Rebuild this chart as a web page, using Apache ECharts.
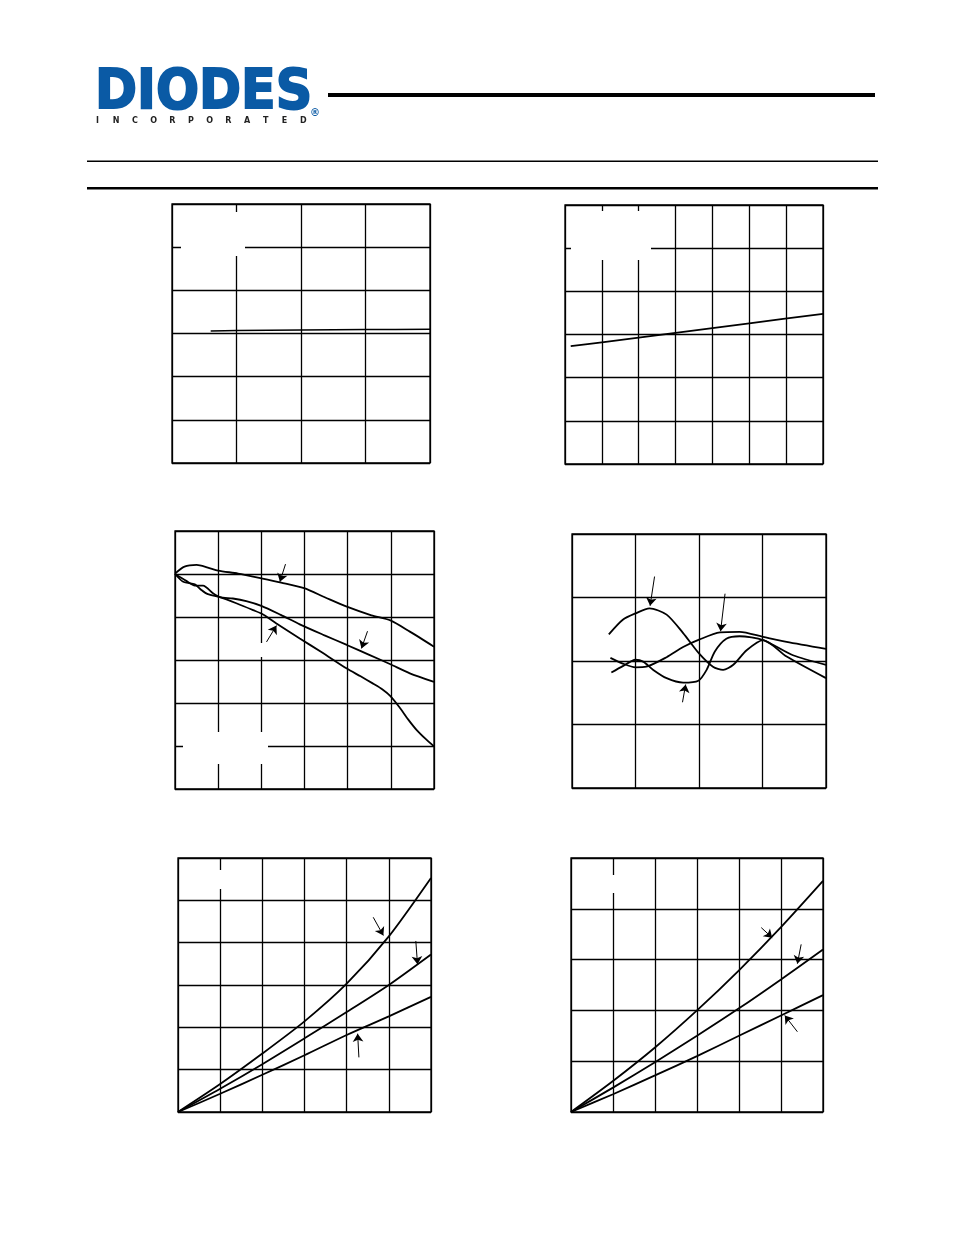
<!DOCTYPE html>
<html><head><meta charset="utf-8">
<script src="https://cdn.jsdelivr.net/npm/echarts@6/dist/echarts.min.js"></script>
<style>html,body{margin:0;padding:0;background:#fff}#c{width:954px;height:1235px}</style>
</head><body><div id="c"></div>
<script>
// ---------- data (grid units) ----------
const c1Line = [[0.6,3.06],[1,3.07],[2,3.08],[3,3.09],[4,3.10]];
const c2Line = [[0.155,2.73],[1,2.82],[3,3.04],[5,3.26],[7,3.48]];

const c3A = [[0,5.01],[0.22,5.17],[0.5,5.21],[0.76,5.15],[1.0,5.08],[1.46,5.01],[2.0,4.9],[2.46,4.8],[2.99,4.67],[3.47,4.46],[3.98,4.24],[4.55,4.04],[4.99,3.92],[5.44,3.66],[6,3.31]];
const c3B = [[0,5.0],[0.26,4.84],[0.46,4.73],[0.65,4.73],[0.88,4.55],[1.04,4.46],[1.34,4.43],[1.65,4.37],[2.0,4.26],[2.45,4.05],[2.89,3.83],[3.45,3.58],[3.98,3.35],[4.5,3.12],[4.99,2.9],[5.44,2.69],[6,2.49]];
const c3C = [[0,5.0],[0.19,4.82],[0.46,4.76],[0.61,4.63],[0.76,4.53],[1.04,4.46],[1.42,4.32],[1.81,4.16],[2.04,4.06],[2.35,3.85],[2.89,3.5],[3.4,3.18],[3.98,2.8],[4.3,2.62],[4.59,2.45],[4.8,2.32],[4.99,2.16],[5.2,1.9],[5.4,1.62],[5.6,1.37],[5.8,1.17],[6,0.99]];
const c3Arrows = [[[2.56,5.23],[2.43,4.82]],[[2.12,3.42],[2.35,3.80]],[[4.46,3.67],[4.32,3.27]]];

const c4Hump = [[0.58,2.42],[0.80,2.65],[1.0,2.75],[1.22,2.83],[1.49,2.73],[1.75,2.44],[2.0,2.12],[2.22,1.91],[2.38,1.86],[2.54,1.94],[2.75,2.17],[3.01,2.33],[3.38,2.07],[4.0,1.73]];
const c4Rise = [[0.605,2.05],[0.80,1.96],[1.0,1.90],[1.17,1.91],[1.49,2.06],[1.75,2.22],[2.01,2.34],[2.33,2.45],[2.64,2.46],[3.01,2.38],[3.38,2.30],[4.0,2.19]];
const c4Dip = [[0.62,1.82],[0.80,1.92],[1.0,2.02],[1.12,1.99],[1.28,1.86],[1.49,1.73],[1.75,1.66],[1.99,1.69],[2.12,1.86],[2.25,2.15],[2.43,2.35],[2.64,2.39],[3.01,2.33],[3.48,2.09],[4.0,1.94]];
const c4Arrows = [[[1.30,3.33],[1.23,2.87]],[[2.41,3.06],[2.34,2.47]],[[1.74,1.35],[1.79,1.63]]];

const c5Top = [[0,0],[1,0.66],[2,1.38],[3,2.14],[4,3.03],[5,4.15],[6,5.53]];
const c5Mid = [[0,0],[1,0.55],[2,1.13],[3,1.74],[4,2.36],[5,3.0],[6,3.72]];
const c5Low = [[0,0],[1,0.43],[2,0.88],[3,1.34],[4,1.82],[5,2.26],[6,2.72]];
const c5Arrows = [[[4.63,4.60],[4.87,4.17]],[[5.64,4.04],[5.68,3.49]],[[4.29,1.29],[4.26,1.85]]];

const c6Top = [[0,0],[1,0.61],[2,1.27],[3,2.0],[4,2.79],[5,3.64],[6,4.55]];
const c6Mid = [[0,0],[1,0.48],[2,0.98],[3,1.5],[4,2.04],[5,2.61],[6,3.2]];
const c6Low = [[0,0],[1,0.35],[2,0.72],[3,1.1],[4,1.5],[5,1.9],[6,2.3]];
const c6Arrows = [[[4.53,3.63],[4.79,3.43]],[[5.48,3.3],[5.39,2.92]],[[5.39,1.58],[5.09,1.9]]];

const xMax = [4,7,6,4,6,6];
const yMax = [6,6,6,4,6,5];
const logoWord = 'DIODES';
const logoSub = 'INCORPORATED';

// ---------- layout ----------
const grids = [
  {left:172, top:204, width:258, height:259},
  {left:565, top:205, width:258, height:259},
  {left:175, top:531, width:259, height:258},
  {left:572, top:534, width:254, height:254},
  {left:178, top:858, width:253, height:254},
  {left:571, top:858, width:252, height:254}
].map(g => Object.assign(g, {show:true, borderColor:'#000', borderWidth:1.3, backgroundColor:'transparent'}));

function axis(i, max){
  return {type:'value', gridIndex:i, min:0, max:max, interval:1,
    axisLabel:{show:false}, axisTick:{show:false}, axisLine:{show:false},
    splitLine:{show:true, lineStyle:{color:'#000', width:1.3}}};
}
const xAxis = xMax.map((m,i)=>axis(i,m));
const yAxis = yMax.map((m,i)=>axis(i,m));

function line(i, data, arrows, width){
  const s = {type:'line', xAxisIndex:i, yAxisIndex:i, data:data, smooth:0.25,
    showSymbol:false, symbol:'none', silent:true,
    lineStyle:{color:'#000', width:width||1.8}, z:5};
  if (arrows){
    s.markLine = {silent:true, symbol:['none','arrow'], symbolSize:8, animation:false,
      label:{show:false}, lineStyle:{color:'#000', width:1, type:'solid'},
      data: arrows.map(a=>[{coord:a[0]},{coord:a[1]}])};
  }
  return s;
}
const series = [
  line(0,c1Line,null,1.5),
  line(1,c2Line,null,1.8),
  line(2,c3A,[c3Arrows[0]]), line(2,c3B,[c3Arrows[1]]), line(2,c3C,[c3Arrows[2]]),
  line(3,c4Hump,[c4Arrows[0]]), line(3,c4Rise,[c4Arrows[1]]), line(3,c4Dip,[c4Arrows[2]]),
  line(4,c5Top,[c5Arrows[0]]), line(4,c5Mid,[c5Arrows[1]]), line(4,c5Low,[c5Arrows[2]]),
  line(5,c6Top,[c6Arrows[0]]), line(5,c6Mid,[c6Arrows[1]]), line(5,c6Low,[c6Arrows[2]])
];

// ---------- decorations ----------
const masks = [[181,212,64,44],[571,211,80,49],[183,732,85,32],[256,643,11,14],[200,870,40,19],[600,875,26,18]];
const graphic = [];
masks.forEach(m => graphic.push({type:'rect', z:100, shape:{x:m[0],y:m[1],width:m[2],height:m[3]}, style:{fill:'#fff'}}));
graphic.push({type:'text', z:100, x:95, y:93.5, scaleX:0.905, style:{text:logoWord, x:0, y:0, fill:'#0a5aa5', stroke:'#0a5aa5', lineWidth:2, font:'bold 56px "DejaVu Sans"', textAlign:'left', verticalAlign:'middle'}});
logoSub.split('').forEach((ch,k) => graphic.push({type:'text', z:100, x:97.5 + k*18.7, y:121, style:{text:ch, fill:'#222', font:'bold 8px "DejaVu Sans"', textAlign:'center', verticalAlign:'middle'}}));
graphic.push({type:'text', z:100, x:315, y:113, style:{text:'\u00AE', fill:'#0a5aa5', font:'bold 10px "DejaVu Sans"', textAlign:'center', verticalAlign:'middle'}});
graphic.push({type:'rect', z:100, shape:{x:328, y:93, width:547, height:4}, style:{fill:'#000'}});
graphic.push({type:'rect', z:100, shape:{x:87, y:160.5, width:791, height:1.6}, style:{fill:'#000'}});
graphic.push({type:'rect', z:100, shape:{x:87, y:187, width:791, height:2.6}, style:{fill:'#000'}});

const chart = echarts.init(document.getElementById('c'), null, {renderer:'canvas'});
chart.setOption({animation:false, grid:grids, xAxis:xAxis, yAxis:yAxis, series:series, graphic:graphic});
</script>
</body></html>
